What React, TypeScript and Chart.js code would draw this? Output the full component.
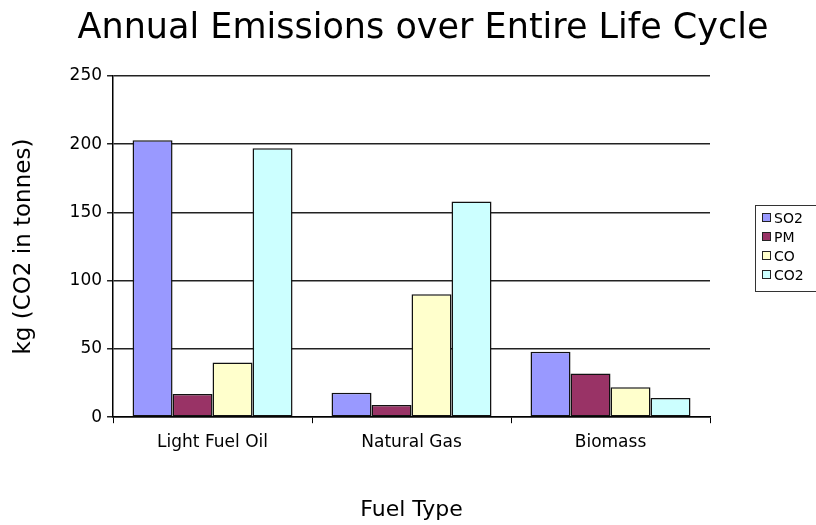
import React, { useEffect, useRef } from "react";
import { Chart, registerables } from "chart.js";

Chart.register(...registerables);

const chartTitle = "Annual Emissions over Entire Life Cycle";
const categories = ["Light Fuel Oil", "Natural Gas", "Biomass"];
const seriesNames = ["SO2", "PM", "CO", "CO2"];
const so2 = [203, 18, 48];
const pm = [17, 9, 32];
const co = [40, 90, 22];
const co2 = [197, 158, 14];
const seriesColors = ["#9999FF", "#993366", "#FFFFCC", "#CCFFFF"];
const yTicks = [0, 50, 100, 150, 200, 250];

const FONT = "'DejaVu Sans', 'Liberation Sans', Arial, sans-serif";

const titlePlugin = {
  id: "customTitle",
  afterDraw(chart: any) {
    const ctx = chart.ctx;
    ctx.save();
    ctx.font = `35px ${FONT}`;
    ctx.fillStyle = "#000";
    ctx.textAlign = "center";
    ctx.textBaseline = "alphabetic";
    ctx.fillText(chartTitle, 423, 38);
    ctx.restore();
  },
};

const legendBoxPlugin = {
  id: "legendBox",
  afterDraw(chart: any) {
    const ctx = chart.ctx;
    ctx.save();
    const x0 = 755;
    const y0 = 205;
    ctx.fillStyle = "#ffffff";
    ctx.fillRect(x0, y0, 80, 86);
    ctx.strokeStyle = "#333";
    ctx.lineWidth = 1;
    ctx.strokeRect(x0 + 0.5, y0 + 0.5, 80, 86);
    ctx.font = `14px ${FONT}`;
    ctx.textBaseline = "middle";
    ctx.textAlign = "left";
    chart.data.datasets.forEach((ds: any, i: number) => {
      const cy = 218 + i * 19;
      ctx.fillStyle = ds.backgroundColor;
      ctx.fillRect(762.5, cy - 4.5, 8, 8);
      ctx.strokeStyle = "#222";
      ctx.strokeRect(762.5, cy - 4.5, 8, 8);
      ctx.fillStyle = "#000";
      ctx.fillText(ds.label, 774, cy + 1);
    });
    ctx.restore();
  },
};

export default function App() {
  const ref = useRef<HTMLCanvasElement | null>(null);

  useEffect(() => {
    document.body.style.margin = "0";
    const canvas = ref.current;
    if (!canvas) return;
    const values = [so2, pm, co, co2];
    const chart = new Chart(canvas, {
      type: "bar",
      data: {
        labels: categories,
        datasets: seriesNames.map((name, i) => ({
          label: name,
          data: values[i],
          backgroundColor: seriesColors[i],
          borderColor: "#111",
          borderWidth: 1.5,
          borderSkipped: false,
          categoryPercentage: 0.804,
          barPercentage: 1,
        })),
      },
      options: {
        responsive: false,
        animation: false,
        layout: { padding: { left: 0, right: 106, top: 76, bottom: 0 } },
        plugins: {
          legend: { display: false },
          tooltip: { enabled: false },
          title: { display: false },
        },
        scales: {
          x: {
            offset: true,
            grid: {
              offset: true,
              drawOnChartArea: false,
              drawTicks: true,
              tickLength: 6,
              color: "#000",
            },
            border: { display: true, color: "#000", width: 1.5 },
            ticks: {
              color: "#000",
              padding: 9,
              font: { family: FONT, size: 17 },
            },
            title: {
              display: true,
              text: "Fuel Type",
              color: "#000",
              font: { family: FONT, size: 22 },
              padding: { top: 35, bottom: 2 },
            },
          },
          y: {
            min: 0,
            max: 250,
            afterBuildTicks: (scale: any) => {
              scale.ticks = yTicks.map((v) => ({ value: v }));
            },
            grid: {
              color: "#222",
              lineWidth: 1.5,
              tickLength: 6,
            },
            border: { display: true, color: "#000", width: 1.5 },
            ticks: {
              color: "#000",
              padding: 5,
              font: { family: FONT, size: 17 },
            },
            title: {
              display: true,
              text: "kg (CO2 in tonnes)",
              color: "#000",
              font: { family: FONT, size: 23 },
              padding: { top: 10, bottom: 27 },
            },
          },
        },
      },
      plugins: [titlePlugin, legendBoxPlugin],
    } as any);
    return () => chart.destroy();
  }, []);

  return (
    <div style={{ width: 816, height: 525 }}>
      <canvas ref={ref} width={816} height={525} />
    </div>
  );
}
